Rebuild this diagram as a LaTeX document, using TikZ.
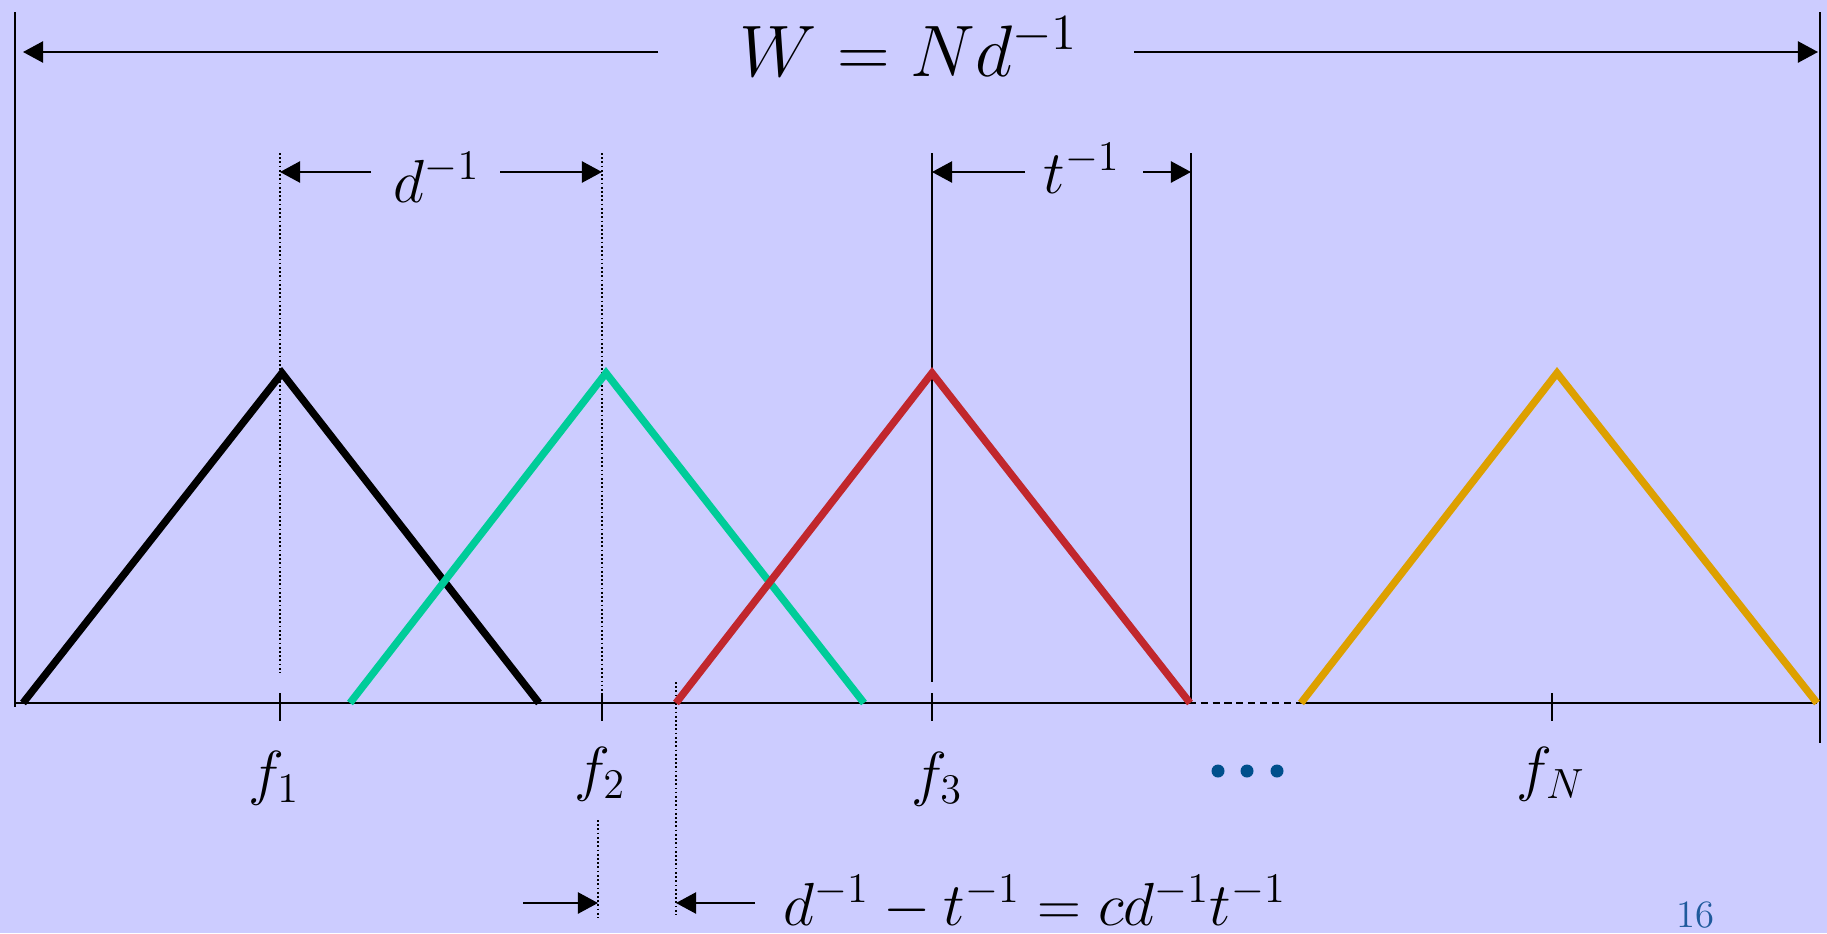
\documentclass[tikz,border=0pt]{standalone}
\usetikzlibrary{arrows.meta}
\definecolor{bgblue}{RGB}{204,204,255}
\definecolor{tealgreen}{RGB}{0,204,153}
\definecolor{darkred}{RGB}{193,39,45}
\definecolor{amber}{RGB}{221,160,0}
\definecolor{dotblue}{RGB}{0,79,140}
\definecolor{pageblue}{RGB}{31,90,156}
\tikzset{
  dimarrow/.style={line width=0.6pt, -{Triangle[length=5.7pt,width=6pt]}},
  guide/.style={line width=0.5pt},
  dotguide/.style={line width=0.45pt, dash pattern=on 0.5pt off 0.7pt},
  axisline/.style={line width=0.7pt},
  tri/.style={line width=2.1pt, line join=miter},
  biglabel/.style={font=\fontsize{21}{25}\selectfont, inner sep=0pt},
  flabel/.style={font=\fontsize{18}{22}\selectfont, inner sep=0pt}
}
\begin{document}
\begin{tikzpicture}[x=0.01cm, y=-0.01cm]
\fill[bgblue] (0,0) rectangle (1827,933);

\coordinate (o) at (14,703);
\coordinate (gapl) at (1190,703);
\coordinate (gapr) at (1299,703);
\coordinate (e) at (1817,703);

\coordinate (a1) at (23,703);
\coordinate (p1) at (282,373);
\coordinate (b1) at (539,703);
\coordinate (a2) at (350,703);
\coordinate (p2) at (606,373);
\coordinate (b2) at (864,703);
\coordinate (a3) at (676,703);
\coordinate (p3) at (932,373);
\coordinate (b3) at (1190,703);
\coordinate (aN) at (1301,703);
\coordinate (pN) at (1557,373);
\coordinate (bN) at (1817,703);

\draw[guide] (15,12) -- (15,707);
\draw[guide] (1820,12) -- (1820,743);

\draw[dotguide] (280,153) -- (280,673);
\draw[dotguide] (602,153) -- (602,703);
\draw[guide] (932,153) -- (932,682);
\draw[guide] (1191,153) -- (1191,703);
\draw[dotguide] (676,682) -- (676,915);
\draw[dotguide] (598,820) -- (598,918);

\draw[axisline] (o) -- (gapl);
\draw[axisline, dash pattern=on 2pt off 1.4pt, dash phase=-3pt] (gapl) -- (gapr);
\draw[axisline] (gapr) -- (e);

\draw[guide] (280,693) -- (280,721);
\draw[guide] (602,693) -- (602,721);
\draw[guide] (932,693) -- (932,721);
\draw[guide] (1552,693) -- (1552,721);

\draw[tri, black] (a1) -- (p1) -- (b1);
\draw[tri, tealgreen] (a2) -- (p2) -- (b2);
\draw[tri, darkred] (a3) -- (p3) -- (b3);
\draw[tri, amber] (aN) -- (pN) -- (bN);

\node[biglabel, anchor=base] (w) at (909,76) {$W = Nd^{-1}$};
\coordinate (wl) at (23,52);
\coordinate (wls) at (658,52);
\coordinate (wrs) at (1134,52);
\coordinate (wr) at (1818,52);
\draw[dimarrow] (wls) -- (wl);
\draw[dimarrow] (wrs) -- (wr);

\node[flabel, anchor=base] (d) at (437,202) {$d^{-1}$};
\coordinate (dl) at (280,172);
\coordinate (dls) at (371,172);
\coordinate (drs) at (500,172);
\coordinate (dr) at (602,172);
\draw[dimarrow] (dls) -- (dl);
\draw[dimarrow] (drs) -- (dr);

\node[flabel, anchor=base] (t) at (1082,193) {$t^{-1}$};
\coordinate (tl) at (932,172);
\coordinate (tls) at (1025,172);
\coordinate (trs) at (1143,172);
\coordinate (tr) at (1191,172);
\draw[dimarrow] (tls) -- (tl);
\draw[dimarrow] (trs) -- (tr);

\node[flabel] (f1) at (274,778) {$f_1$};
\node[flabel] (f2) at (600,774) {$f_2$};
\node[flabel] (f3) at (937,779) {$f_3$};
\node[flabel] (fN) at (1551,774) {$f_N$};

\fill[dotblue] (1218,771) circle (6.5);
\fill[dotblue] (1247,771) circle (6.5);
\fill[dotblue] (1277,771) circle (6.5);

\node[flabel, anchor=base] (eq) at (1035,925) {$d^{-1} - t^{-1} = cd^{-1}t^{-1}$};
\coordinate (gl) at (598,903);
\coordinate (gls) at (523,903);
\coordinate (gr) at (676,903);
\coordinate (grs) at (755,903);
\draw[dimarrow] (gls) -- (gl);
\draw[dimarrow] (grs) -- (gr);

\node[font=\fontsize{11}{13}\selectfont, text=pageblue, inner sep=0pt] (pg) at (1695,915) {16};
\end{tikzpicture}
\end{document}
